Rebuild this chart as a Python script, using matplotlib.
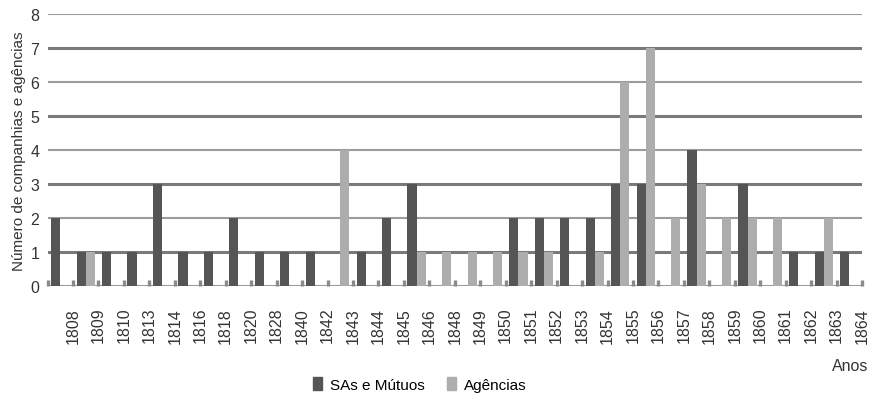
import numpy as np
import matplotlib.pyplot as plt
from matplotlib.patches import Patch

plt.rcParams['font.family'] = ['Liberation Sans', 'DejaVu Sans']

anos = ['1808', '1809', '1810', '1813', '1814', '1816', '1818', '1820', '1828',
        '1840', '1842', '1843', '1844', '1845', '1846', '1848', '1849', '1850',
        '1851', '1852', '1853', '1854', '1855', '1856', '1857', '1858', '1859',
        '1860', '1861', '1862', '1863', '1864']
sas_mutuos = [2, 1, 1, 1, 3, 1, 1, 2, 1, 1, 1, 0, 1, 2, 3, 0, 0, 0,
              2, 2, 2, 2, 3, 3, 0, 4, 0, 3, 0, 1, 1, 1]
agencias = [0, 1, 0, 0, 0, 0, 0, 0, 0, 0, 0, 4, 0, 0, 1, 1, 1, 1,
            1, 1, 0, 1, 6, 7, 2, 3, 2, 2, 2, 0, 2, 0]

dark = '#555555'
light = '#adadad'

fig = plt.figure(figsize=(8.69, 4.02), dpi=100)
ax = fig.add_axes([0.0547, 0.286, 0.9373, 0.677])

x = np.arange(len(anos))
w = 0.36
ax.bar(x - w / 2, sas_mutuos, width=w, color=dark, zorder=3)
ax.bar(x + w / 2, agencias, width=w, color=light, zorder=3)

# horizontal lines, odd ones look heavier in the original
for v in range(0, 9):
    if v % 2 == 1:
        ax.axhline(v, color='#7a7a7a', lw=2.2, zorder=1)
    else:
        ax.axhline(v, color='#9c9c9c', lw=1.5, zorder=1)

ax.set_xlim(-0.5, len(anos) - 0.5)
ax.set_ylim(0, 8)
ax.set_yticks(range(0, 9))
for s in ax.spines.values():
    s.set_visible(False)

# labels sit on the category boundaries, small inward ticks there too
ax.set_xticks(x + 0.5)
ax.set_xticklabels(anos, rotation=90, fontsize=11.5, color='#333333')
ax.set_xticks([-0.5], minor=True)
ax.tick_params(axis='x', which='both', direction='in', length=4, width=2.4,
               color='#8a8a8a', pad=15)
ax.tick_params(axis='y', length=0, labelsize=11.5, labelcolor='#333333', pad=6)

ax.set_ylabel('Número de companhias e agências', fontsize=11, color='#333333', labelpad=3)

fig.text(0.999, 0.088, 'Anos', ha='right', va='center', fontsize=11.5, color='#333333')

handles = [Patch(color=dark, label='SAs e Mútuos'), Patch(color=light, label='Agências')]
fig.legend(handles=handles, loc='center', bbox_to_anchor=(0.483, 0.042), ncol=2,
           frameon=False, fontsize=11, handlelength=0.6, handleheight=1.0,
           handletextpad=0.5, columnspacing=1.5)

fig.savefig('out.png', dpi=100)
